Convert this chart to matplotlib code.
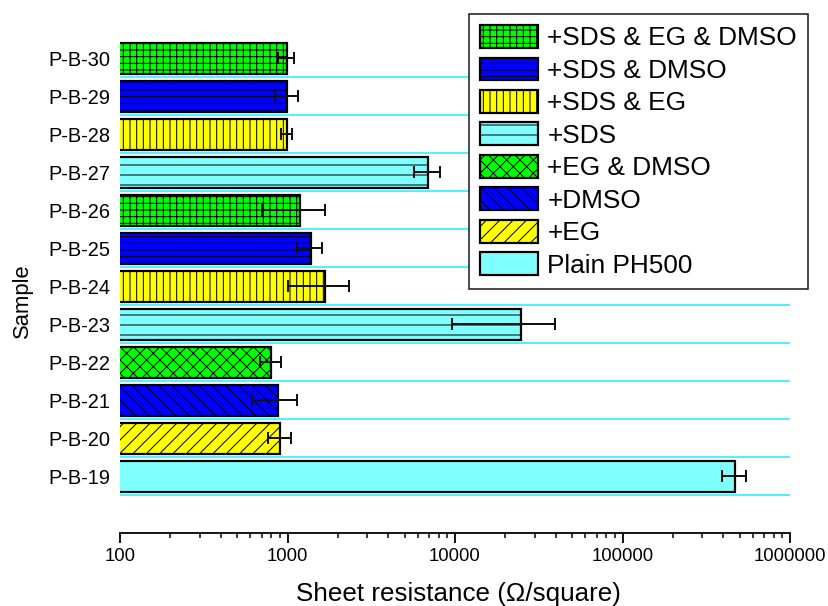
import numpy as np
import matplotlib
matplotlib.use('Agg')
from matplotlib import pyplot as plt
from matplotlib.patches import Patch
from matplotlib.ticker import LogLocator, FixedLocator, NullFormatter

DPI = 240

# data
samples = ['P-B-19', 'P-B-20', 'P-B-21', 'P-B-22', 'P-B-23', 'P-B-24',
           'P-B-25', 'P-B-26', 'P-B-27', 'P-B-28', 'P-B-29', 'P-B-30']
resistance = [471000, 906, 877, 796, 24660, 1675, 1374, 1188, 6930, 990, 997, 990]
resistance_err = [76000, 140, 260, 115, 15000, 665, 230, 480, 1200, 80, 160, 110]
treatment = ['Plain PH500', '+EG', '+DMSO', '+EG & DMSO', '+SDS', '+SDS & EG',
             '+SDS & DMSO', '+SDS & EG & DMSO', '+SDS', '+SDS & EG',
             '+SDS & DMSO', '+SDS & EG & DMSO']
legend_order = ['+SDS & EG & DMSO', '+SDS & DMSO', '+SDS & EG', '+SDS',
                '+EG & DMSO', '+DMSO', '+EG', 'Plain PH500']
xticks = [100, 1000, 10000, 100000, 1000000]

# fill colour and hatch per treatment
style = {
    'Plain PH500': ('#80ffff', ''),
    '+EG': ('#ffff00', '//////'),
    '+DMSO': ('#0000ff', '\\\\\\\\\\\\'),
    '+EG & DMSO': ('#00ff00', 'xxxxxx'),
    '+SDS': ('#80ffff', '----'),
    '+SDS & EG': ('#ffff00', '||||||'),
    '+SDS & DMSO': ('#0000ff', '------'),
    '+SDS & EG & DMSO': ('#00ff00', '++++++'),
}

def px(v):
    return v * 72.0 / DPI

def mainf():
    plt.rcParams['font.family'] = ['Liberation Sans', 'DejaVu Sans']
    plt.rcParams['hatch.linewidth'] = px(1.0)
    plt.rcParams['hatch.color'] = 'black'

    fig = plt.figure(figsize=(828 / DPI, 606 / DPI), dpi=DPI)
    ax = fig.add_axes([120 / 828, 1 - 533 / 606, 670 / 828, (533 - 39.5) / 606])

    y = np.arange(len(samples))
    colors = [style[t][0] for t in treatment]
    hatches = [style[t][1] for t in treatment]
    bars = ax.barh(y, resistance, height=0.82, left=0, color=colors,
                   edgecolor='black', linewidth=px(2.2), zorder=3)
    for b, h in zip(bars, hatches):
        b.set_hatch(h)
    ax.errorbar(resistance, y, xerr=resistance_err, fmt='none', ecolor='#111111',
                elinewidth=px(2), capsize=px(6), capthick=px(2), zorder=4)

    ax.set_xscale('log')
    ax.set_xlim(100, 1000000)
    ax.set_ylim(-1.487, 11.5)
    ax.xaxis.set_major_locator(FixedLocator(xticks))
    ax.set_xticklabels([str(v) for v in xticks])
    ax.xaxis.set_minor_locator(LogLocator(base=10, subs=np.arange(2, 10)))
    ax.xaxis.set_minor_formatter(NullFormatter())
    ax.tick_params(axis='x', which='major', direction='out', length=px(10),
                   width=px(1.8), pad=px(5), labelsize=px(18.5))
    ax.tick_params(axis='x', which='minor', direction='out', length=px(5),
                   width=px(1.5))

    ax.set_yticks(y)
    ax.set_yticklabels(samples)
    ax.tick_params(axis='y', which='major', length=0, pad=px(10), labelsize=px(20))
    ax.set_yticks(y - 0.5, minor=True)
    ax.tick_params(axis='y', which='minor', length=0)
    ax.grid(which='minor', axis='y', color='#3ff0ff', linewidth=px(1.8), zorder=1)
    ax.set_axisbelow(True)

    for s in ['left', 'right', 'top']:
        ax.spines[s].set_visible(False)
    ax.spines['bottom'].set_linewidth(px(1.8))

    fig.text(458 / 828, 1 - 594 / 606, 'Sheet resistance (\u03a9/square)',
             ha='center', va='center', fontsize=px(26))
    fig.text(22 / 828, 1 - 300.5 / 606, 'Sample', rotation=90,
             ha='center', va='center', fontsize=px(22))

    handles = [Patch(facecolor=style[t][0], hatch=style[t][1], edgecolor='black',
                     linewidth=px(2.2), label=t) for t in legend_order]
    leg = fig.legend(handles=handles, loc='upper right',
                     bbox_to_anchor=(808 / 828, 1 - 14 / 606),
                     fontsize=px(26.3), frameon=True, fancybox=False,
                     edgecolor='#222222', framealpha=1, borderpad=0.42,
                     handlelength=2.2, handleheight=0.95, handletextpad=0.35,
                     labelspacing=0.27, borderaxespad=0)
    leg.get_frame().set_linewidth(px(1.6))

    fig.savefig('out.png', dpi=DPI)

if __name__ == "__main__":
    mainf()
